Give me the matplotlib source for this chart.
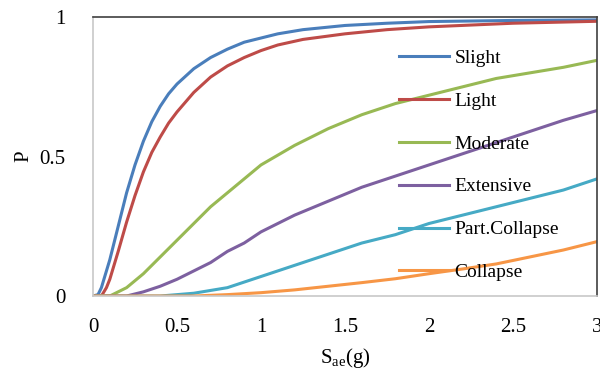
import numpy as np
import matplotlib
matplotlib.use('Agg')
import matplotlib.pyplot as plt

plt.rcParams['font.family'] = ['Liberation Serif', 'DejaVu Serif']

# fragility curves
x_slight = [0, 0.03, 0.05, 0.1, 0.15, 0.2, 0.25, 0.3, 0.35, 0.4, 0.45, 0.5, 0.6, 0.7, 0.8, 0.9, 1.0, 1.1, 1.25, 1.5, 1.75, 2.0, 2.5, 3.0]
p_slight = [0, 0.005, 0.03, 0.13, 0.25, 0.37, 0.47, 0.555, 0.625, 0.68, 0.725, 0.76, 0.815, 0.855, 0.885, 0.91, 0.925, 0.94, 0.955, 0.97, 0.978, 0.984, 0.988, 0.99]

x_light = [0, 0.05, 0.08, 0.1, 0.15, 0.2, 0.25, 0.3, 0.35, 0.4, 0.45, 0.5, 0.6, 0.7, 0.8, 0.9, 1.0, 1.1, 1.25, 1.5, 1.75, 2.0, 2.5, 3.0]
p_light = [0, 0.0, 0.03, 0.06, 0.16, 0.265, 0.36, 0.445, 0.515, 0.57, 0.62, 0.66, 0.73, 0.785, 0.825, 0.855, 0.88, 0.9, 0.92, 0.94, 0.955, 0.965, 0.978, 0.985]

x_mod = [0, 0.1, 0.2, 0.3, 0.4, 0.5, 0.6, 0.7, 0.8, 0.9, 1.0, 1.2, 1.4, 1.6, 1.8, 2.0, 2.2, 2.4, 2.6, 2.8, 3.0]
p_mod = [0, 0.0, 0.03, 0.08, 0.14, 0.20, 0.26, 0.32, 0.37, 0.42, 0.47, 0.54, 0.60, 0.65, 0.69, 0.72, 0.75, 0.78, 0.80, 0.82, 0.845]

x_ext = [0, 0.2, 0.3, 0.4, 0.5, 0.6, 0.7, 0.8, 0.9, 1.0, 1.2, 1.4, 1.6, 1.8, 2.0, 2.2, 2.4, 2.6, 2.8, 3.0]
p_ext = [0, 0.0, 0.015, 0.035, 0.06, 0.09, 0.12, 0.16, 0.19, 0.23, 0.29, 0.34, 0.39, 0.43, 0.47, 0.51, 0.55, 0.59, 0.63, 0.665]

x_part = [0, 0.4, 0.6, 0.8, 1.0, 1.2, 1.4, 1.6, 1.8, 2.0, 2.2, 2.4, 2.6, 2.8, 3.0]
p_part = [0, 0.0, 0.01, 0.03, 0.07, 0.11, 0.15, 0.19, 0.22, 0.26, 0.29, 0.32, 0.35, 0.38, 0.42]

x_col = [0, 0.6, 0.8, 1.0, 1.2, 1.4, 1.6, 1.8, 2.0, 2.2, 2.4, 2.6, 2.8, 3.0]
p_col = [0, 0.0, 0.005, 0.012, 0.022, 0.035, 0.048, 0.062, 0.08, 0.097, 0.115, 0.14, 0.165, 0.195]

fig = plt.figure(figsize=(6, 3.8), dpi=100)
ax = fig.add_axes([0.155, 0.221, 0.84, 0.734])

lw = 2.2
ax.plot(x_slight, p_slight, color='#4A7EBB', lw=lw, label='Slight')
ax.plot(x_light, p_light, color='#BE4B48', lw=lw, label='Light')
ax.plot(x_mod, p_mod, color='#98B954', lw=lw, label='Moderate')
ax.plot(x_ext, p_ext, color='#7D60A0', lw=lw, label='Extensive')
ax.plot(x_part, p_part, color='#46AAC5', lw=lw, label='Part.Collapse')
ax.plot(x_col, p_col, color='#F79646', lw=lw, label='Collapse')

ax.set_xlim(0, 3)
ax.set_ylim(0, 1)
ax.set_xticks([0, 0.5, 1, 1.5, 2, 2.5, 3])
ax.set_xticklabels(['0', '0.5', '1', '1.5', '2', '2.5', '3'])
ax.set_yticks([0, 0.5, 1])
ax.set_yticklabels(['0', '0.5', '1'])
ax.tick_params(axis='both', length=0, labelsize=15)
ax.tick_params(axis='x', pad=16)
ax.tick_params(axis='y', pad=20)

ax.spines['left'].set_color('#C8C8C8')
ax.spines['bottom'].set_color('#C8C8C8')
ax.spines['top'].set_color('#404040')
ax.spines['right'].set_color('#404040')
for s in ax.spines.values():
    s.set_linewidth(1.2)

leg = ax.legend(loc='upper left', bbox_to_anchor=(0.607, 0.885), frameon=False,
                fontsize=14, handlelength=2.6, handletextpad=0.25, labelspacing=1.3,
                borderaxespad=0, borderpad=0)

ax.set_xlabel('S$_{\\mathregular{ae}}$(g)', fontsize=15, labelpad=6)
ax.set_ylabel('P', fontsize=15, labelpad=4)

plt.savefig('out.png', dpi=100)
